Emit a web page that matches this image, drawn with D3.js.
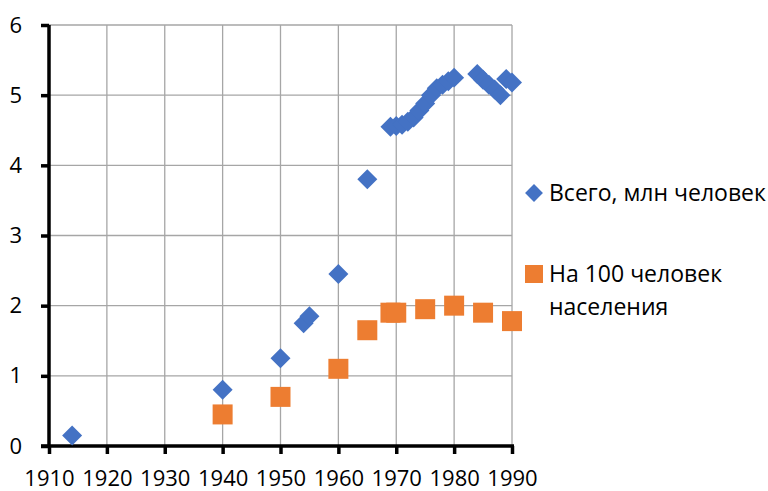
<!DOCTYPE html>
<html>
<head>
<meta charset="utf-8">
<script src="https://cdn.jsdelivr.net/npm/d3@7"></script>
<style>
  body { margin: 0; background: #fff; }
  svg { display: block; font-family: "Open Sans", sans-serif; }
</style>
</head>
<body>
<svg width="768" height="491"></svg>
<script>
// series 1: total, millions
const totalYears = [1914, 1940, 1950, 1954, 1955, 1960, 1965,
  1969, 1970, 1971, 1972, 1973, 1974, 1975, 1976, 1977, 1978, 1979, 1980,
  1984, 1985, 1986, 1987, 1988, 1989, 1990];
const totalValues = [0.15, 0.8, 1.25, 1.75, 1.85, 2.45, 3.8,
  4.55, 4.56, 4.58, 4.62, 4.68, 4.78, 4.88, 5.0, 5.1, 5.15, 5.2, 5.25,
  5.3, 5.22, 5.15, 5.08, 5.0, 5.23, 5.18];

// series 2: per 100 people
const perYears = [1940, 1950, 1960, 1965, 1969, 1970, 1975, 1980, 1985, 1990];
const perValues = [0.45, 0.7, 1.1, 1.65, 1.9, 1.9, 1.95, 2.0, 1.9, 1.78];

const seriesNames = ["Всего, млн человек", "На 100 человек населения"];
const xTicks = [1910, 1920, 1930, 1940, 1950, 1960, 1970, 1980, 1990];
const yTicks = [0, 1, 2, 3, 4, 5, 6];

const blue = "#4472C4";
const orange = "#ED7D31";

const svg = d3.select("svg");

const x = d3.scaleLinear().domain([1910, 1990]).range([49, 512]);
const y = d3.scaleLinear().domain([0, 6]).range([446, 25]);

// gridlines
svg.append("g")
  .selectAll("line")
  .data(xTicks.slice(1))
  .join("line")
  .attr("x1", d => x(d)).attr("x2", d => x(d))
  .attr("y1", y(6)).attr("y2", y(0))
  .attr("stroke", "#a6a6a6").attr("stroke-width", 1.3);

svg.append("g")
  .selectAll("line")
  .data(yTicks.slice(1))
  .join("line")
  .attr("x1", x(1910)).attr("x2", x(1990))
  .attr("y1", d => y(d)).attr("y2", d => y(d))
  .attr("stroke", "#a6a6a6").attr("stroke-width", 1.3);

// axes
const xAxis = svg.append("g")
  .attr("transform", `translate(0,${y(0)})`)
  .call(d3.axisBottom(x).tickValues(xTicks).tickFormat(d3.format("d")).tickSize(8).tickPadding(16));

const yAxis = svg.append("g")
  .attr("transform", `translate(${x(1910)},0)`)
  .call(d3.axisLeft(y).tickValues(yTicks).tickFormat(d3.format("d")).tickSize(8).tickPadding(19));

[xAxis, yAxis].forEach(a => {
  a.select(".domain").attr("stroke", "#000").attr("stroke-width", 3.5);
  a.selectAll(".tick line").attr("stroke", "#000").attr("stroke-width", 3.5);
  a.selectAll("text").attr("fill", "#000").attr("font-size", 22)
    .attr("font-family", "'Open Sans', sans-serif");
});
xAxis.select(".domain").attr("d", `M${x(1910) - 8},0H${x(1990) + 2}`);
yAxis.select(".domain").attr("d", `M0,${y(6)}V${y(0)}`);

const diamond = d3.symbol().type(d3.symbolSquare).size(200);
const square = d3.symbol().type(d3.symbolSquare).size(400);

const totalData = totalYears.map((yr, i) => ({ year: yr, value: totalValues[i] }));
const perData = perYears.map((yr, i) => ({ year: yr, value: perValues[i] }));

svg.append("g")
  .selectAll("path")
  .data(totalData)
  .join("path")
  .attr("d", diamond)
  .attr("transform", d => `translate(${x(d.year)},${y(d.value)}) rotate(45)`)
  .attr("fill", blue);

svg.append("g")
  .selectAll("path")
  .data(perData)
  .join("path")
  .attr("d", square)
  .attr("transform", d => `translate(${x(d.year)},${y(d.value)})`)
  .attr("fill", orange);

// legend
const legend = svg.append("g").attr("font-size", 23).attr("fill", "#000");

legend.append("path")
  .attr("d", d3.symbol().type(d3.symbolSquare).size(160))
  .attr("transform", "translate(534,193) rotate(45)")
  .attr("fill", blue);
legend.append("text")
  .attr("x", 549).attr("y", 201)
  .text(seriesNames[0]);

legend.append("path")
  .attr("d", d3.symbol().type(d3.symbolSquare).size(324))
  .attr("transform", "translate(534,274)")
  .attr("fill", orange);
const t2 = legend.append("text").attr("x", 549).attr("y", 282);
t2.append("tspan").attr("x", 549).text("На 100 человек");
t2.append("tspan").attr("x", 549).attr("dy", 33).text("населения");
</script>
</body>
</html>
